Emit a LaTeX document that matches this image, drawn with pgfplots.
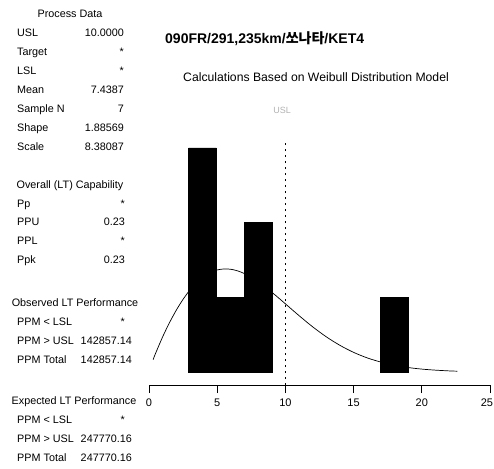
\documentclass[border=0pt]{standalone}
\usepackage{fontspec}
\setmainfont{Liberation Sans}
\newfontfamily\cjk{Noto Sans CJK KR}
\usepackage{pgfplots}
\pgfplotsset{compat=1.18}
\begin{document}
\begin{tikzpicture}[x=1pt,y=1pt]
\path[use as bounding box] (0,0) rectangle (494,-468);
% ---- left panel ----
\begin{scope}[every node/.style={inner sep=0pt, font=\fontsize{10.8}{12}\selectfont}]
\node[anchor=base] at (70,-17.9) {Process Data};
\node[anchor=base west] at (17,-36.9) {USL};      \node[anchor=base east] at (124,-36.9) {10.0000};
\node[anchor=base west] at (17,-55.9) {Target};   \node[anchor=base east] at (124,-55.9) {*};
\node[anchor=base west] at (17,-74.9) {LSL};      \node[anchor=base east] at (124,-74.9) {*};
\node[anchor=base west] at (17,-93.9) {Mean};     \node[anchor=base east] at (124,-93.9) {7.4387};
\node[anchor=base west] at (17,-112.9) {Sample N};\node[anchor=base east] at (124,-112.9) {7};
\node[anchor=base west] at (17,-131.9) {Shape};   \node[anchor=base east] at (124,-131.9) {1.88569};
\node[anchor=base west] at (17,-150.9) {Scale};   \node[anchor=base east] at (124,-150.9) {8.38087};
\node[anchor=base] at (70,-188.9) {Overall (LT) Capability};
\node[anchor=base west] at (17,-207.9) {Pp};  \node[anchor=base east] at (125,-207.9) {*};
\node[anchor=base west] at (17,-225.9) {PPU}; \node[anchor=base east] at (125,-225.9) {0.23};
\node[anchor=base west] at (17,-244.9) {PPL}; \node[anchor=base east] at (125,-244.9) {*};
\node[anchor=base west] at (17,-263.9) {Ppk}; \node[anchor=base east] at (125,-263.9) {0.23};
\node[anchor=base] at (75,-306.9) {Observed LT Performance};
\node[anchor=base west] at (17,-325.9) {PPM < LSL};  \node[anchor=base east] at (125,-325.9) {*};
\node[anchor=base west] at (17,-344.9) {PPM > USL};  \node[anchor=base east] at (132,-344.9) {142857.14};
\node[anchor=base west] at (17,-363.9) {PPM Total};  \node[anchor=base east] at (132,-363.9) {142857.14};
\node[anchor=base] at (74,-404.9) {Expected LT Performance};
\node[anchor=base west] at (17,-423.9) {PPM < LSL};  \node[anchor=base east] at (125,-423.9) {*};
\node[anchor=base west] at (17,-442.9) {PPM > USL};  \node[anchor=base east] at (132,-442.9) {247770.16};
\node[anchor=base west] at (17,-461.9) {PPM Total};  \node[anchor=base east] at (132,-461.9) {247770.16};
\end{scope}
% ---- titles ----
\node[anchor=base west, inner sep=0pt, font=\bfseries\fontsize{14}{16}\selectfont] at (165,-43.4) {090FR/291,235km/{\cjk 쏘나타}/KET4};
\node[anchor=base west, inner sep=0pt, font=\fontsize{12.2}{14}\selectfont] at (183,-81.5) {Calculations Based on Weibull Distribution Model};
\node[inner sep=0pt, text=gray!60, font=\fontsize{9}{10}\selectfont] at (282,-110) {USL};
% ---- histogram ----
\begin{axis}[
  at={(149pt,-385pt)}, anchor=south west,
  scale only axis, width=341pt, height=245pt,
  xmin=0, xmax=25, ymin=-0.174, ymax=3.107,
  axis x line=bottom, axis y line=none,
  axis line style={-, line width=0.8pt},
  xtick={0,5,10,15,20,25},
  xticklabels={0,5,10,15,20,\makebox[6pt][r]{25}},
  tick align=outside, major tick length=8pt,
  tick style={black, line width=0.8pt},
  xticklabel style={font=\fontsize{11}{13}\selectfont, yshift=-2pt},
  clip=false,
]
\addplot[ybar, bar width=2.04, fill=black, draw=black] coordinates {(3.92,3) (5.96,1) (8.0,2) (18.0,1)};
\addplot[smooth, black, line width=0.7pt] coordinates {
(0.3,0.165) (0.5,0.258) (1,0.471) (1.5,0.660) (2,0.828) (2.5,0.974) (3,1.098) (3.5,1.199)
(4,1.277) (4.5,1.333) (5,1.367) (5.5,1.380) (6,1.376) (6.5,1.354) (7,1.318) (7.5,1.269)
(8,1.210) (8.5,1.142) (9,1.069) (9.5,0.992) (10,0.913) (11,0.755) (12,0.605) (13,0.471)
(14,0.357) (15,0.263) (16,0.189) (17,0.133) (18,0.091) (19,0.060) (20,0.039) (21,0.025)
(22,0.015) (22.6,0.011)};
\addplot[black, line width=0.7pt, dash pattern=on 2pt off 4pt] coordinates {(10,-0.174) (10,3.107)};
\end{axis}
\end{tikzpicture}
\end{document}
